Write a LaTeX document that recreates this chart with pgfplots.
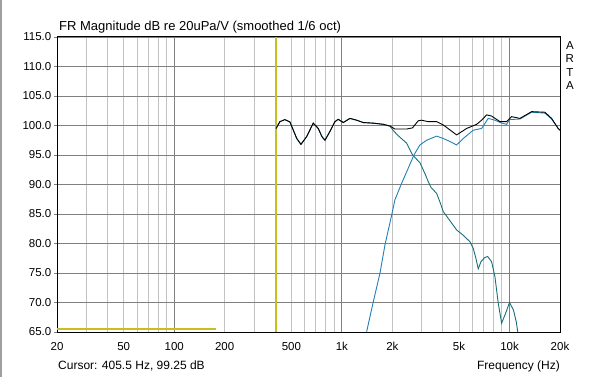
\documentclass[border=0pt]{standalone}
\usepackage{fontspec}
\setmainfont{Liberation Sans}
\usepackage{pgfplots}
\usepackage{pgfplotstable}
\pgfplotsset{compat=1.18}
\definecolor{woof}{RGB}{22,112,122}
\definecolor{tweet}{RGB}{34,128,184}
\definecolor{cursorc}{RGB}{200,190,30}
\definecolor{gmaj}{RGB}{128,128,128}
\definecolor{gmin}{RGB}{195,195,195}

\pgfplotstableread{
f db
405 99.5
427 100.65
457 101.0
490 100.6
538 97.8
570 96.8
616 98.1
675 100.4
723 99.5
761 98.1
793 97.5
849 99.0
909 100.65
951 101.05
1020 100.5
1117 101.2
1225 100.9
1341 100.5
1539 100.4
1765 100.2
1940 99.9
2020 99.2
2144 98.4
2434 97.0
2640 95.0
2920 93.7
3123 91.9
3273 90.5
3400 89.5
3674 88.5
3850 87.0
4025 85.4
4300 84.3
4835 82.3
5294 81.4
5804 80.3
6073 79.2
6300 77.5
6507 75.7
6750 76.9
7100 77.6
7403 77.8
7817 76.9
8180 74.4
8560 69.9
8970 66.5
9480 68.2
10000 70.0
10560 68.7
10960 66.75
11200 65.0
}\woofer

\pgfplotstableread{
f db
1405 65.05
1539 70.1
1687 74.95
1807 79.75
1981 84.8
2072 87.4
2272 90.2
2487 92.75
2690 95.0
2920 96.7
3202 97.5
3674 98.2
4025 97.8
4400 97.3
4835 96.7
5294 97.8
6073 99.2
6815 99.5
7465 101.2
8180 100.9
8970 100.4
9606 100.2
10000 101.0
11535 101.1
13540 102.25
16250 102.1
17820 101.1
19500 99.5
20000 99.2
}\tweeter

\pgfplotstableread{
f db
405 99.5
427 100.65
457 101.0
490 100.6
538 97.8
570 96.8
616 98.1
675 100.4
723 99.5
761 98.1
793 97.5
849 99.0
909 100.65
951 101.05
1020 100.5
1117 101.2
1225 100.9
1341 100.5
1539 100.4
1765 100.2
1940 99.9
2072 99.4
2434 99.4
2640 99.6
2855 100.8
2990 100.9
3273 100.65
3674 100.65
4025 100.1
4835 98.4
5547 99.5
6366 100.2
6815 100.9
7304 101.8
7817 101.6
8766 100.65
9606 100.65
10290 101.5
11535 101.2
13540 102.35
16250 102.25
17820 101.2
19500 99.5
20000 99.2
}\total

\begin{document}
\begin{tikzpicture}
\useasboundingbox (-57bp,-45bp) rectangle (540bp,332bp);
\fill[gray!75] (-57bp,-45bp) rectangle (-55bp,332bp);
\begin{axis}[
  at={(0,0)}, anchor=south west,
  scale only axis, width=503bp, height=295bp,
  xmode=log, xmin=20, xmax=20000, ymin=65, ymax=115,
  clip=false,
  font=\fontsize{11.5bp}{13bp}\selectfont,
  axis line style={line width=1bp},
  xtick={20,50,100,200,500,1000,2000,5000,10000,20000},
  xticklabels={20,50,100,200,500,1k,2k,5k,10k,20k},
  minor xtick={30,40,50,60,70,80,90,200,300,400,500,600,700,800,900,2000,3000,4000,5000,6000,7000,8000,9000},
  extra x ticks={100,1000,10000},
  extra x tick labels={,,},
  extra x tick style={grid=major},
  xminorgrids,
  minor grid style={gmin, line width=0.9bp},
  ymajorgrids,
  major grid style={gmaj, line width=0.9bp},
  ytick={65,70,...,115},
  yticklabel style={inner sep=2.5bp, /pgf/number format/.cd, fixed, fixed zerofill, precision=1, assume math mode=true},
  x tick style={draw=none},
  minor tick length=0pt,
  ytick pos=left,
  tick align=outside,
  major tick length=3bp,
  xticklabel style={yshift=-4bp},
]
\addplot[cursorc, line width=1.3bp] coordinates {(405.5,65) (405.5,115)};
\addplot[cursorc, line width=2bp] coordinates {(20,65.45) (178,65.45)};
\addplot[woof, line width=0.9bp] table[x=f, y=db] {\woofer};
\addplot[tweet, line width=0.9bp] table[x=f, y=db] {\tweeter};
\addplot[black, line width=0.9bp] table[x=f, y=db] {\total};

\node[anchor=base west, inner sep=0, font=\fontsize{13bp}{15bp}\selectfont, xshift=2bp, yshift=6bp] at (rel axis cs:0,1) {FR Magnitude dB re 20uPa/V (smoothed 1/6 oct)};
\node[anchor=north west, inner sep=0, align=center, font=\fontsize{11.5bp}{13.5bp}\selectfont, xshift=5.5bp, yshift=-4bp] at (rel axis cs:1,1) {A\\R\\T\\A};
\node[anchor=base west, inner sep=0, font=\fontsize{12bp}{14bp}\selectfont, xshift=1bp, yshift=-37.5bp] at (rel axis cs:0,0) {Cursor: 405.5 Hz, 99.25 dB};
\node[anchor=base east, inner sep=0, font=\fontsize{12bp}{14bp}\selectfont, yshift=-37.5bp] at (rel axis cs:1,0) {Frequency (Hz)};
\end{axis}
\end{tikzpicture}
\end{document}
